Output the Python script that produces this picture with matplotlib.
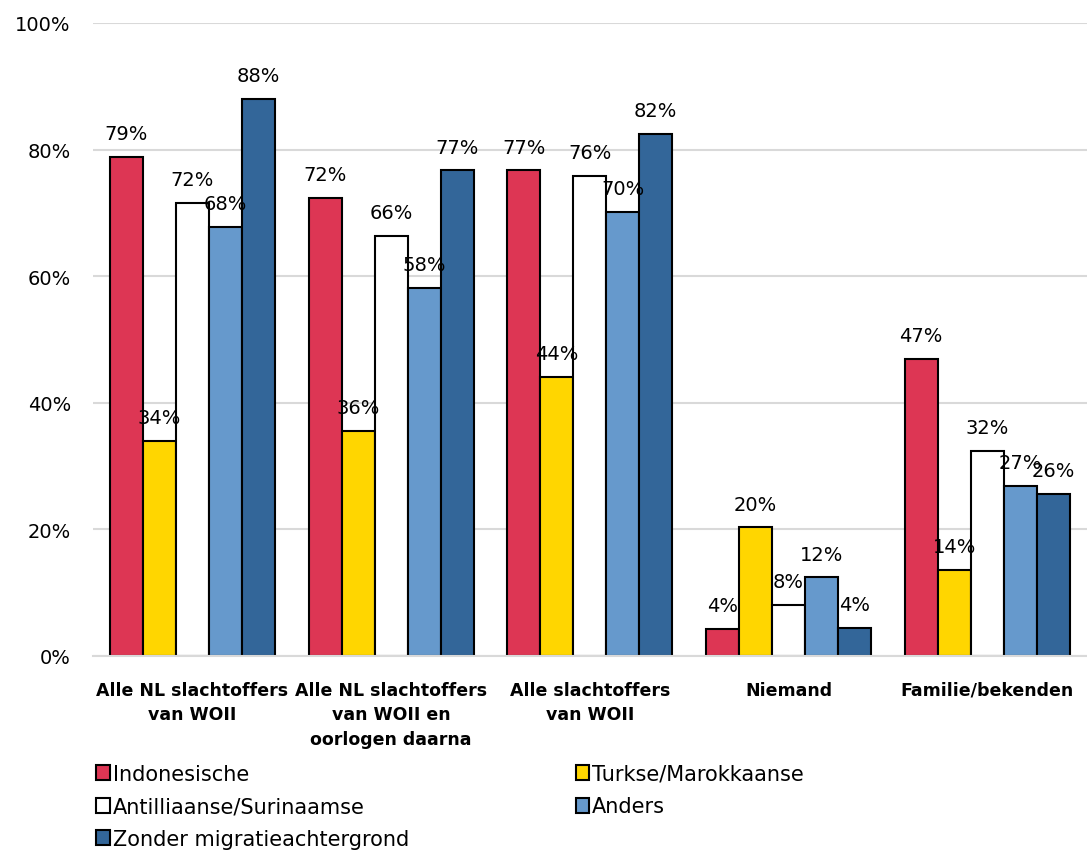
import matplotlib
matplotlib.use('Agg')
import matplotlib.pyplot as plt
import numpy as np

categories = ['Alle NL slachtoffers\nvan WOII',
              'Alle NL slachtoffers\nvan WOII en\noorlogen daarna',
              'Alle slachtoffers\nvan WOII',
              'Niemand',
              'Familie/bekenden']
series_names = ['Indonesische', 'Turkse/Marokkaanse', 'Antilliaanse/Surinaamse',
                'Anders', 'Zonder migratieachtergrond']
indonesische = [78.8, 72.4, 76.7, 4.3, 46.9]
turkse_marokkaanse = [34.0, 35.6, 44.1, 20.3, 13.6]
antilliaanse_surinaamse = [71.6, 66.3, 75.8, 8.1, 32.4]
anders = [67.8, 58.1, 70.1, 12.4, 26.9]
zonder = [88.0, 76.7, 82.4, 4.4, 25.6]
yticks = [0, 20, 40, 60, 80, 100]

colors = ['#DD3654', '#FFD600', '#FFFFFF', '#6699CC', '#336699']
all_series = [indonesische, turkse_marokkaanse, antilliaanse_surinaamse, anders, zonder]

plt.rcParams['font.family'] = ['DejaVu Sans']

fig = plt.figure(figsize=[10.87, 8.53], dpi=100)
ax = fig.add_axes([0.0856, 0.2298, 0.914, 0.7421])

x = np.arange(len(categories))
width = 0.166
bars = []
for i, (vals, col, name) in enumerate(zip(all_series, colors, series_names)):
    pos = x + (i - 2) * width
    b = ax.bar(pos, vals, width, color=col, edgecolor='black', linewidth=1.5,
               label=name, zorder=2)
    bars.append(b)
    for p, v in zip(pos, vals):
        ax.annotate('%d%%' % round(v), (p, v), xytext=(0, 10), textcoords='offset points',
                    ha='center', va='bottom', fontsize=14, zorder=5)

ax.set_xlim(-0.5, 4.5)
ax.set_ylim(0, 100)
ax.set_yticks(yticks)
ax.set_yticklabels(['%d%%' % t for t in yticks], fontsize=14)
ax.set_xticks(x)
ax.set_xticklabels(categories, fontsize=12.5, fontweight='bold', linespacing=1.45)
ax.tick_params(length=0)
ax.tick_params(axis='x', pad=18)
ax.tick_params(axis='y', pad=16)
ax.yaxis.grid(True, color='#D9D9D9', linewidth=1.5, zorder=0)
ax.set_axisbelow(True)
for s in ['top', 'right', 'left']:
    ax.spines[s].set_visible(False)
ax.spines['bottom'].set_color('#D9D9D9')
ax.spines['bottom'].set_linewidth(1.5)

# row-wise legend order like the original (matplotlib fills columns first)
order = [0, 2, 4, 1, 3]
fig.legend([bars[i] for i in order], [series_names[i] for i in order],
           loc='lower left', bbox_to_anchor=(0.073, -0.016), ncol=2, frameon=False,
           fontsize=15, handlelength=0.65, handleheight=0.75, handletextpad=0.15,
           columnspacing=8.0, labelspacing=0.6, borderpad=0.3)

plt.savefig('out.png', dpi=100)
